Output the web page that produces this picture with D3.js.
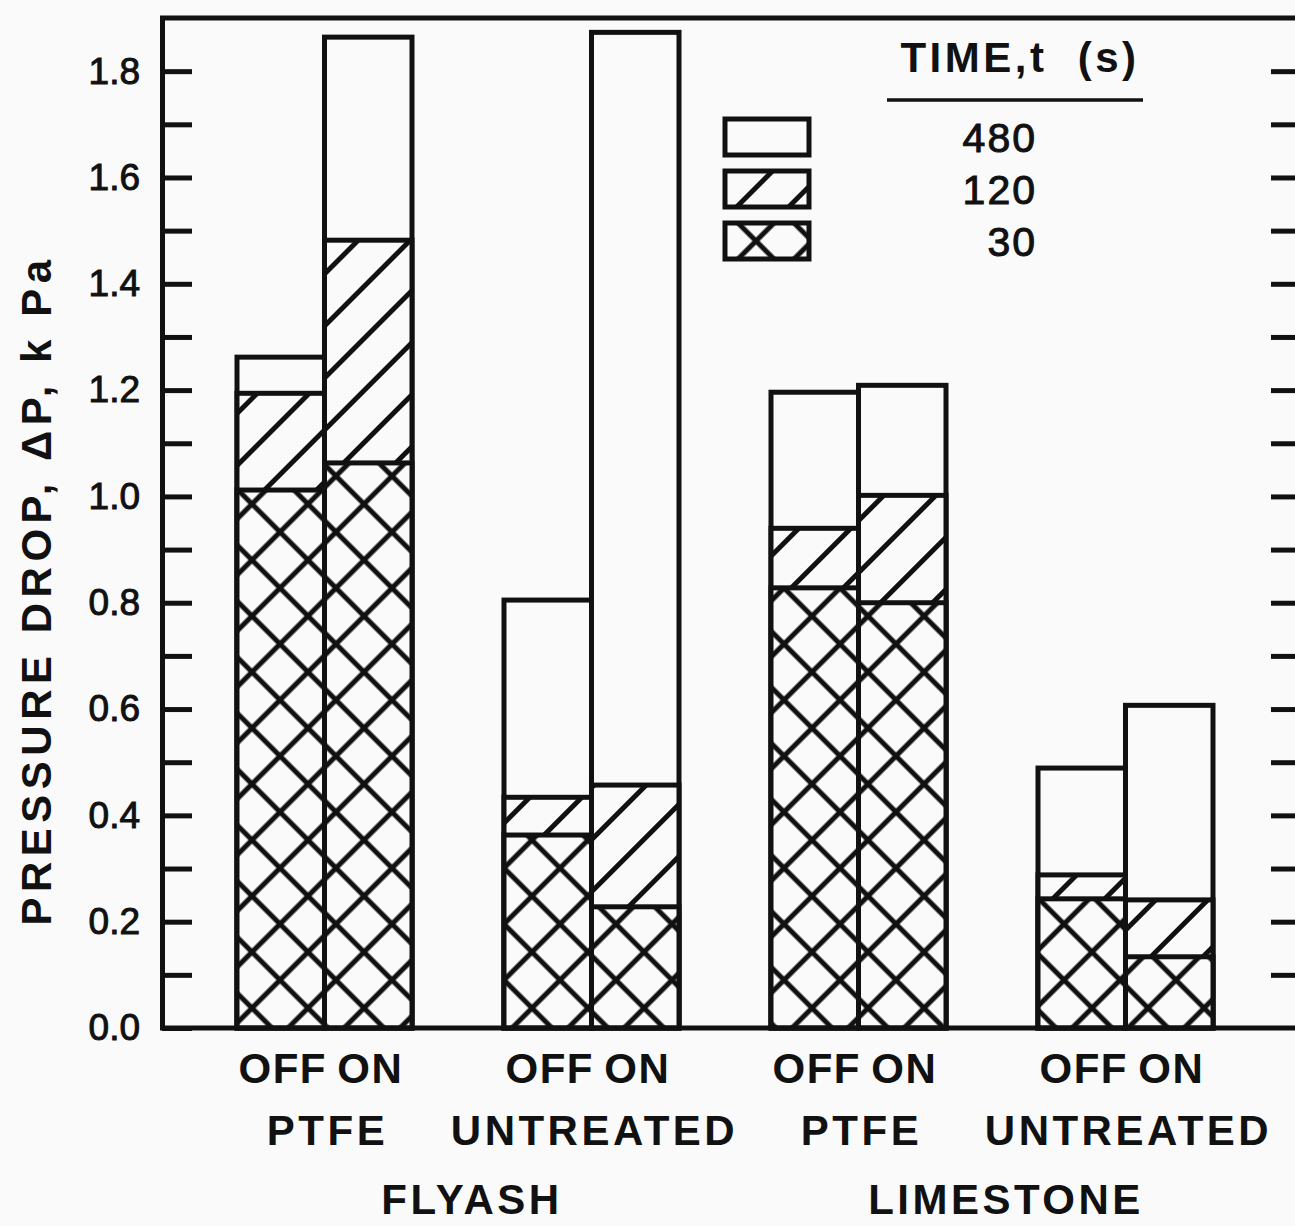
<!DOCTYPE html>
<html>
<head>
<meta charset="utf-8">
<script src="https://cdn.jsdelivr.net/npm/d3@7/dist/d3.min.js"></script>
<style>
  html, body { margin: 0; padding: 0; background: #fafafa; }
  svg { display: block; }
  text { font-family: "Liberation Sans", Arial, Helvetica, sans-serif; fill: #111; }
</style>
</head>
<body>
<div id="chart"></div>
<script>
// data (kPa)
var groups = ['FLYASH PTFE', 'FLYASH UNTREATED', 'LIMESTONE PTFE', 'LIMESTONE UNTREATED'];
var treatments = ['PTFE', 'UNTREATED', 'PTFE', 'UNTREATED'];
var materials = ['FLYASH', 'LIMESTONE'];
var states = ['OFF', 'ON'];
var times = ['480', '120', '30'];
// one value per bar: FLYASH PTFE OFF, ON, FLYASH UNTREATED OFF, ON, ...
var dp480 = [1.262, 1.864, 0.805, 1.873, 1.196, 1.209, 0.489, 0.607];
var dp120 = [1.194, 1.482, 0.434, 0.457, 0.940, 1.002, 0.288, 0.241];
var dp30  = [1.012, 1.063, 0.363, 0.228, 0.828, 0.800, 0.243, 0.134];
var yTickLabels = ['0.0', '0.2', '0.4', '0.6', '0.8', '1.0', '1.2', '1.4', '1.6', '1.8'];

var W = 1295, H = 1226;
var ink = '#111';

var svg = d3.select('#chart').append('svg')
  .attr('width', W)
  .attr('height', H);

var y = d3.scaleLinear().domain([0, 1.9]).range([1028, 18]);
var x = d3.scaleBand().domain(groups).range([237, 1213]).paddingInner(0.3446).paddingOuter(0);
var xs = d3.scaleBand().domain(states).range([0, x.bandwidth()]);

// hatch patterns
var defs = svg.append('defs');
function hatch(id, size, cross) {
  var p = defs.append('pattern')
    .attr('id', id)
    .attr('patternUnits', 'userSpaceOnUse')
    .attr('width', size)
    .attr('height', size)
    .attr('patternTransform', 'rotate(45)');
  p.append('rect').attr('width', size).attr('height', size).attr('fill', '#fafafa');
  p.append('line')
    .attr('x1', size / 2).attr('y1', -1).attr('x2', size / 2).attr('y2', size + 1)
    .attr('stroke', ink).attr('stroke-width', 5);
  if (cross) {
    p.append('line')
      .attr('x1', -1).attr('y1', size / 2).attr('x2', size + 1).attr('y2', size / 2)
      .attr('stroke', ink).attr('stroke-width', 5);
  }
}
hatch('diag', 36.8, false);
hatch('cross', 39.6, true);

var fills = { '480': '#fafafa', '120': 'url(#diag)', '30': 'url(#cross)' };
var series = { '480': dp480, '120': dp120, '30': dp30 };

// bars: drawn tallest layer first, shorter layers on top
var bars = [];
groups.forEach(function (g, gi) {
  states.forEach(function (s, si) {
    bars.push({ group: g, state: s, index: gi * 2 + si });
  });
});

times.forEach(function (t) {
  svg.append('g')
    .selectAll('rect')
    .data(bars)
    .enter()
    .append('rect')
    .attr('x', function (d) { return x(d.group) + xs(d.state); })
    .attr('width', xs.bandwidth())
    .attr('y', function (d) { return y(series[t][d.index]); })
    .attr('height', function (d) { return y(0) - y(series[t][d.index]); })
    .attr('fill', fills[t])
    .attr('stroke', ink)
    .attr('stroke-width', 5);
});

// axes
var minor = d3.range(0, 19).map(function (i) { return i / 10; });
var leftAxis = d3.axisLeft(y)
  .tickValues(minor)
  .tickSizeInner(-30)
  .tickSizeOuter(0)
  .tickPadding(22)
  .tickFormat(function (d, i) { return i % 2 === 0 ? yTickLabels[i / 2] : ''; });

var gl = svg.append('g').attr('transform', 'translate(162,0)').call(leftAxis);
gl.select('.domain').attr('stroke', ink).attr('stroke-width', 5);
gl.selectAll('.tick line').attr('stroke', ink).attr('stroke-width', 5);
gl.selectAll('.tick text')
  .attr('font-size', 37)
  .attr('fill', ink)
  .attr('stroke', ink)
  .attr('stroke-width', 1)
  .style('font-family', '"Liberation Sans", Arial, sans-serif');

var rightAxis = d3.axisRight(y)
  .tickValues(minor.slice(1))
  .tickSizeInner(-30)
  .tickSizeOuter(0)
  .tickFormat('');
var gr = svg.append('g').attr('transform', 'translate(1301,0)').call(rightAxis);
gr.select('.domain').attr('stroke', ink).attr('stroke-width', 5);
gr.selectAll('.tick line').attr('stroke', ink).attr('stroke-width', 5);

// top frame and baseline
svg.append('line')
  .attr('x1', 160).attr('x2', W + 10).attr('y1', y(1.9)).attr('y2', y(1.9))
  .attr('stroke', ink).attr('stroke-width', 5);
svg.append('line')
  .attr('x1', 160).attr('x2', W + 10).attr('y1', y(0)).attr('y2', y(0))
  .attr('stroke', ink).attr('stroke-width', 5);

// category labels
svg.append('g')
  .selectAll('text')
  .data(bars)
  .enter()
  .append('text')
  .attr('x', function (d) { return x(d.group) + xs(d.state) + xs.bandwidth() / 2 + 2; })
  .attr('y', 1083)
  .attr('text-anchor', 'middle')
  .attr('font-size', 42)
  .attr('font-weight', 'bold')
  .attr('letter-spacing', 1.5)
  .text(function (d) { return d.state; });

svg.append('g')
  .selectAll('text')
  .data(groups)
  .enter()
  .append('text')
  .attr('x', function (d) { return x(d) + x.bandwidth() / 2 + 3; })
  .attr('y', 1145)
  .attr('text-anchor', 'middle')
  .attr('font-size', 42)
  .attr('font-weight', 'bold')
  .attr('letter-spacing', 3.5)
  .text(function (d, i) { return treatments[i]; });

svg.append('g')
  .selectAll('text')
  .data(materials)
  .enter()
  .append('text')
  .attr('x', function (d, i) {
    var a = x(groups[i * 2]) + x.bandwidth() / 2;
    var b = x(groups[i * 2 + 1]) + x.bandwidth() / 2;
    return (a + b) / 2 + 14;
  })
  .attr('y', 1214)
  .attr('text-anchor', 'middle')
  .attr('font-size', 42)
  .attr('font-weight', 'bold')
  .attr('letter-spacing', 3.5)
  .text(function (d) { return d; });

// y title
svg.append('text')
  .attr('transform', 'translate(51,590) rotate(-90)')
  .attr('text-anchor', 'middle')
  .attr('font-size', 42)
  .attr('font-weight', 'bold')
  .attr('letter-spacing', 5.5)
  .attr('xml:space', 'preserve')
  .text('PRESSURE DROP, \u0394P, k Pa');

// legend
var lg = svg.append('g');
lg.append('text')
  .attr('x', 1020)
  .attr('y', 72)
  .attr('text-anchor', 'middle')
  .attr('font-size', 42)
  .attr('font-weight', 'bold')
  .attr('letter-spacing', 3.5)
  .attr('xml:space', 'preserve')
  .text('TIME,t  (s)');
lg.append('line')
  .attr('x1', 887).attr('x2', 1143).attr('y1', 100).attr('y2', 100)
  .attr('stroke', ink).attr('stroke-width', 3.5);

var rows = lg.selectAll('g.row')
  .data(times)
  .enter()
  .append('g')
  .attr('class', 'row')
  .attr('transform', function (d, i) { return 'translate(0,' + (137 + i * 52) + ')'; });
rows.append('rect')
  .attr('x', 725).attr('y', -18).attr('width', 84).attr('height', 36)
  .attr('fill', function (d) { return fills[d]; })
  .attr('stroke', ink).attr('stroke-width', 5);
rows.append('text')
  .attr('x', 1037)
  .attr('y', 15)
  .attr('text-anchor', 'end')
  .attr('font-size', 41)
  .attr('letter-spacing', 2)
  .attr('stroke', ink)
  .attr('stroke-width', 1)
  .text(function (d) { return d; });
</script>
</body>
</html>
